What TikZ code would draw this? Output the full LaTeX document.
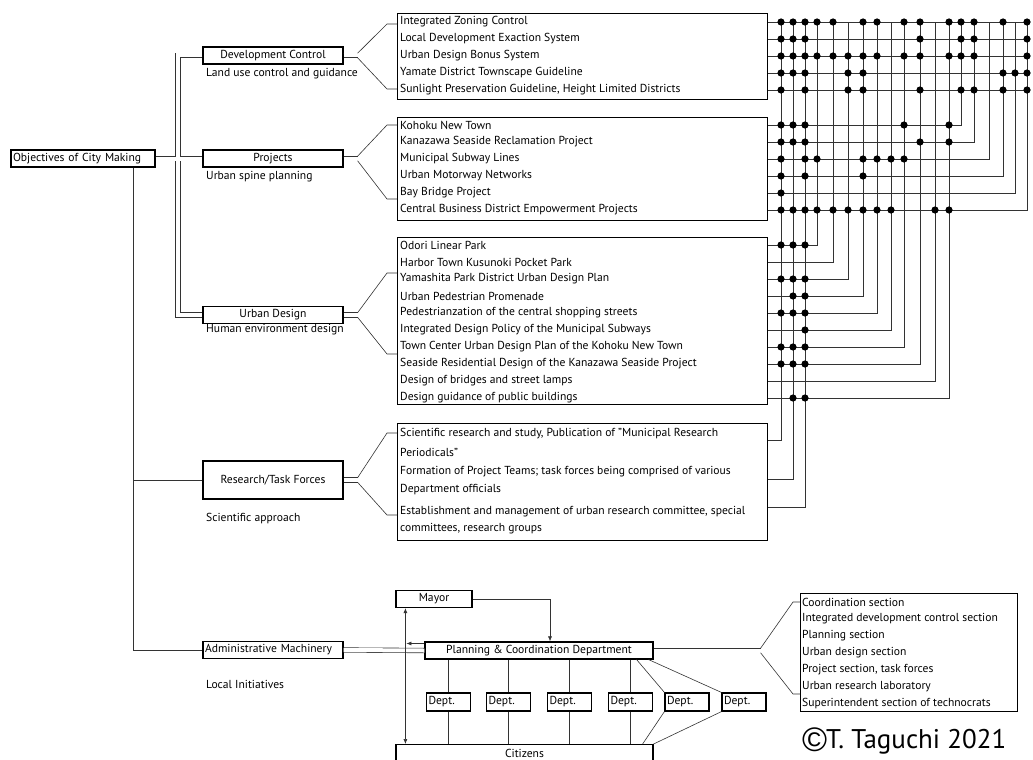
\documentclass[tikz,border=0pt]{standalone}
\usepackage{fontspec}
\setmainfont{PT Sans}
\newfontfamily\symfont{Liberation Sans}
\usetikzlibrary{arrows.meta}
\tikzset{
  box/.style={draw, line width=1.2pt, inner sep=2pt, minimum height=17pt},
  catbox/.style={box, minimum width=140pt},
  listbox/.style={draw, line width=1.2pt, anchor=north west, inner sep=0pt},
  entry/.style={anchor=west, inner sep=0pt},
  wire/.style={line width=0.6pt, black!80},
  twin/.style={double, double distance=4pt, line width=0.6pt, black!80},
  tip/.style={-{Latex[length=5pt,width=4pt]}},
}
\def\colx{{781,793,805,817,833,848,863,877,891,904,920,935,949,961,974,989,1003,1015,1027}}

\begin{document}
\begin{tikzpicture}[x=1pt, y=-1pt, font=\fontsize{11.6}{13}\selectfont]
\useasboundingbox (0,0) rectangle (1033,760);

\node[box, text width=140pt, align=left] (obj) at (83,158.5) {Objectives of City Making};
\node[catbox] (dc) at (273,55.5) {Development Control};
\node[catbox] (prj) at (273,158.5) {Projects};
\node[catbox] (ud) at (273,315) {Urban Design};
\node[catbox, minimum height=38pt] (res) at (273,480) {Research/Task Forces};
\node[catbox, text width=136pt, align=left] (adm) at (273,650) {Administrative Machinery};
\node[entry] (dcs) at (206,74) {Land use control and guidance};
\node[entry] (prjs) at (206,177) {Urban spine planning};
\node[entry] (uds) at (206,330) {Human environment design};
\node[entry] (ress) at (206,519) {Scientific approach};
\node[entry] (adms) at (206,684) {Local Initiatives};

\coordinate (trunk) at (178,158.5);
\draw[twin] (obj.east) -- (trunk) (dc.west) -| (trunk) |- (ud.west) (trunk) -- (prj.west);
\draw[wire] ([xshift=50pt]obj.south) coordinate (spine) |- (adm.west) (res.west) -- (res.west -| spine);

% lists
\node[listbox, minimum width=370pt, minimum height=86pt] (dcbox) at (397,13) {};
\node[listbox, minimum width=370pt, minimum height=103pt] (pbox) at (397,117) {};
\node[listbox, minimum width=370pt, minimum height=167pt] (ubox) at (397,237) {};
\node[listbox, minimum width=370pt, minimum height=117pt] (rbox) at (397,423) {};
\node[listbox, minimum width=217pt, minimum height=118pt] (sbox) at (800,593) {};

\foreach \t [count=\i] in {Integrated Zoning Control, Local Development Exaction System,
  Urban Design Bonus System, Yamate District Townscape Guideline,
  {Sunlight Preservation Guideline, Height Limited Districts}}
  \node[entry] (d\i) at (400,{5+17*\i}) {\t};
\foreach \t [count=\i] in {Kohoku New Town, Kanazawa Seaside Reclamation Project,
  Municipal Subway Lines, Urban Motorway Networks, Bay Bridge Project,
  Central Business District Empowerment Projects}
  \node[entry] (p\i) at (400,{108+17*\i}) {\t};
\foreach \t [count=\i] in {Odori Linear Park, Harbor Town Kusunoki Pocket Park,
  Yamashita Park District Urban Design Plan, Urban Pedestrian Promenade,
  Pedestrianzation of the central shopping streets,
  Integrated Design Policy of the Municipal Subways,
  Town Center Urban Design Plan of the Kohoku New Town,
  Seaside Residential Design of the Kanazawa Seaside Project,
  Design of bridges and street lamps, Design guidance of public buildings}
  \node[entry] (u\i) at (400,{228+17*\i}) {\t};
\node[entry] (r1) at (400,434) {Scientific research and study, Publication of "Municipal Research};
\node[entry] (r1b) at (400,452) {Periodicals"};
\node[entry] (r2) at (400,472) {Formation of Project Teams; task forces being comprised of various};
\node[entry] (r2b) at (400,490) {Department officials};
\node[entry] (r3) at (400,512) {Establishment and management of urban research committee, special};
\node[entry] (r3b) at (400,529) {committees, research groups};
\foreach \t [count=\i] in {Coordination section, Integrated development control section,
  Planning section, Urban design section, {Project section, task forces},
  Urban research laboratory, Superintendent section of technocrats}
  \node[entry] (s\i) at (802,{585+17*\i}) {\t};

\foreach \c/\top/\bot in {dc/24/89, prj/125/199, ud/273/354, res/433/515} {
  \draw[twin] (\c.east) -- ++(14,0) coordinate (\c f);
  \draw[wire] ([yshift=2.3pt]\c f) -- (387,\top) -- (397,\top);
  \draw[wire] ([yshift=-2.3pt]\c f) -- (387,\bot) -- (397,\bot);
}

% cross matrix
\coordinate (rim) at (1030,0);
\foreach \i in {1,...,5}
  \draw[wire] (d\i -| dcbox.east) -- (d\i -| rim);
\foreach \i in {1,...,6} {
  \pgfmathsetmacro\cx{\colx[12+\i]}
  \draw[wire] (p\i -| pbox.east) -| (\cx,22);
}
\foreach \i in {1,...,10} {
  \pgfmathsetmacro\cx{\colx[2+\i]}
  \draw[wire] (u\i -| ubox.east) -| (\cx,22);
}
\foreach \y [count=\i] in {440,479,507} {
  \pgfmathsetmacro\cx{\colx[\i-1]}
  \draw[wire] (rbox.east |- 0,\y) -| (\cx,22);
}
\foreach \r/\hits in {d1/{1,2,3,4,5,7,8,10,11,13,14,15,17,19}, d2/{1,2,3,11,14,15,19},
  d3/{1,2,3,4,5,6,7,8,10,11,13,14,15,19}, d4/{1,2,3,6,7,17,18,19},
  d5/{1,3,6,7,11,14,15,17,19}, p1/{1,2,3,10,13}, p2/{1,2,3,11,13},
  p3/{1,3,4,7,8,9,10}, p4/{1,3,7}, p5/{1}, p6/{1,2,3,4,5,6,7,8,9,12,13},
  u1/{1,2,3}, u3/{1,2,3}, u4/{2,3}, u5/{1,2,3}, u6/{3}, u7/{1,2,3},
  u8/{1,2,3}, u10/{2,3}}
  \foreach \c in \hits {
    \pgfmathsetmacro\cx{\colx[\c-1]}
    \fill (\cx,0 |- \r) circle[radius=3.6pt];
  }

% administration
\node[box, minimum width=76pt] (mayor) at (434,599) {Mayor};
\node[box, minimum width=228pt] (plan) at (539,650.5) {Planning \& Coordination Department};
\foreach \x [count=\i] in {448.5,508.5,569.5,630.5,687,744}
  \node[box, text width=40pt, align=left, minimum height=18pt] (dept\i) at (\x,702) {Dept.};
\node[box, minimum width=257pt, minimum height=18pt, anchor=north] (cit) at (524.5,744) {Citizens};

\draw[twin] (adm.east) -- (plan.west);
\draw[wire, tip] (mayor.east) -| ([xshift=11pt]plan.north);
\draw[wire, {Latex[length=5pt,width=4pt]}-{Latex[length=5pt,width=4pt]}]
  ([xshift=10pt]mayor.south west) -- ([xshift=10pt]cit.north west);
\draw[wire, tip] ([yshift=7pt]plan.west) -- ++(-18,0);
\foreach \i in {1,...,4}
  \draw[wire] (dept\i.north |- plan.south) -- (dept\i.north) (dept\i.south) -- (dept\i.south |- cit.north);
\draw[wire] ([xshift=-17pt]plan.south east) -- (dept5.north west) (dept5.south west) -- ([xshift=-11pt]cit.north east);
\draw[wire] ([xshift=-5pt]plan.south east) -- (dept6.north west) (dept6.south west) -- (cit.north east);

\draw[twin] (plan.east) -- ++(107,0) coordinate (planf);
\draw[wire] ([yshift=2.3pt]planf) -- (793,602) -- (s1 -| sbox.west);
\draw[wire] ([yshift=-2.3pt]planf) -- (793,694) -- (sbox.west |- 0,694);

\node[anchor=west, inner sep=0pt, font=\fontsize{27}{30}\selectfont] (copy) at (802,741)
  {\raisebox{-0.1em}{\symfont\fontsize{34}{34}\selectfont ©}\kern-0.04em T. Taguchi 2021};
\end{tikzpicture}
\end{document}
